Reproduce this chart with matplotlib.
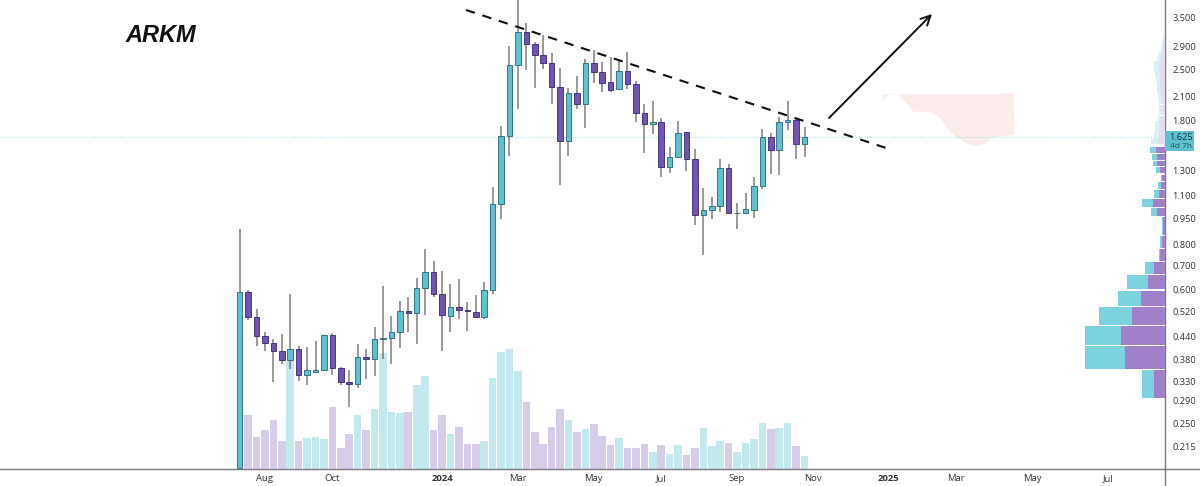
import numpy as np
import matplotlib
matplotlib.use("Agg")
import matplotlib.pyplot as plt
from matplotlib.lines import Line2D
from matplotlib.patches import Rectangle
from matplotlib.ticker import NullLocator

plt.rcParams['font.family'] = ['Open Sans', 'DejaVu Sans']

highs = [.885,.597,.526,.455,.433,.448,.581,.415,.413,.429,.445,.450,.362,.355,.420,.406,.468,.612,.504,.554,.571,.645,.777,.719,.675,.620,.641,.553,.576,.630,1.168,1.737,2.916,4.197,3.394,2.999,3.132,2.780,2.522,2.214,2.399,2.674,2.841,2.633,2.720,2.674,2.810,2.327,2.000,2.039,1.830,1.509,1.794,1.671,1.493,1.161,1.095,1.402,1.354,1.053,1.119,1.241,1.700,1.653,1.842,2.039,1.822,1.726]
body_top = [.590,.590,.502,.442,.424,.400,.407,.407,.355,.354,.444,.444,.359,.329,.387,.387,.433,.437,.453,.522,.522,.603,.669,.671,.583,.533,.533,.525,.518,.597,1.042,1.624,2.577,3.201,3.201,2.948,2.750,2.605,2.238,2.148,2.143,2.605,2.611,2.457,2.307,2.473,2.473,2.278,1.882,1.783,1.779,1.414,1.653,1.663,1.399,1.006,1.033,1.316,1.316,.987,1.008,1.173,1.614,1.614,1.783,1.798,1.798,1.614]
body_bottom = [.187,.502,.441,.424,.400,.379,.379,.343,.343,.351,.354,.359,.328,.323,.323,.381,.381,.434,.436,.454,.515,.515,.603,.583,.506,.505,.525,.519,.502,.502,.597,1.042,1.624,2.577,2.948,2.750,2.605,2.238,1.569,1.569,1.995,1.995,2.457,2.292,2.195,2.200,2.278,1.882,1.756,1.756,1.331,1.331,1.414,1.399,.970,.970,1.006,1.033,.982,.982,.982,1.006,1.173,1.480,1.480,1.783,1.545,1.545]
lows = [.187,.491,.415,.402,.329,.369,.358,.330,.322,.349,.353,.343,.322,.279,.316,.335,.340,.382,.369,.410,.455,.420,.508,.569,.402,.455,.495,.458,.500,.495,.581,.949,1.426,1.932,2.495,2.224,2.511,2.000,1.178,1.426,1.940,1.715,2.297,2.157,2.167,2.190,2.200,1.783,1.451,1.645,1.241,1.274,1.411,1.296,.911,.749,.949,.991,.980,.889,.980,.951,1.151,1.266,1.260,1.689,1.399,1.417]
rising = [1,0,0,0,0,0,1,0,1,1,1,0,0,0,1,0,1,1,1,1,0,1,1,0,0,1,0,0,0,1,1,1,1,1,0,0,0,0,0,1,0,1,0,0,0,1,0,0,0,1,0,1,1,0,0,1,1,1,0,1,1,1,1,0,1,1,0,1]
volumes = [0,54.3,31.7,39,49,28.3,108,28,31,32.3,29.7,62.3,21,35,53.7,39,60,116,57,55.7,57,84.3,93,39,54.3,35,42.3,25,24.7,28.3,91,117,120,98,67,37,25,42,60,49,37,40,45,33,24,31,21,21,25,17,24,15,24,14,21,41,23,28,26,17,26,30,46,40,41,46,23,13]
last_price = 1.614

# volume profile: bin edges (price), total and falling part of each row
profile_hi = [.826,.777,.716,.658,.594,.534,.472,.415,.354]
profile_lo = [.782,.722,.662,.599,.539,.476,.417,.357,.295]
profile_total = [5,6.3,19.7,37.7,47.3,66,80.3,80.3,23]
profile_fall = [3,5,10.7,17.3,23.7,33.3,43.7,40,10.7]
profile2_hi = [.848,.905,.961,1.019,1.081,1.143,1.204,1.26,1.325,1.383,1.448,1.512]
profile2_lo = [.826,.853,.905,.965,1.026,1.088,1.151,1.212,1.274,1.333,1.393,1.457]
profile2_total = [5,3,3,14,23,11,6.7,4.3,9,12,13,15]
profile2_fall = [3,2,2,7.7,12.3,6.3,4.3,3.3,5,7.7,8.3,9]
faded_hi = [1.593,1.653,1.718,1.787,1.854,1.923,1.991,2.066,2.143,2.229,2.307,2.389,2.473,2.566,2.651,2.738,2.829,2.922,3.019,3.118]
faded_lo = [1.538,1.596,1.66,1.726,1.791,1.858,1.923,1.995,2.07,2.153,2.229,2.307,2.389,2.478,2.56,2.645,2.732,2.823,2.916,3.012]
faded_total = [14.3,11,10.3,10.3,6.7,6,5.7,5.7,6.7,8.3,8.3,9,10,11,11,7.7,5.7,4,3,2.3]

# forecast-style pink area
area_x = [78.1,89.4,91.8,91.9,89.4,88.4,87.4,86.2,84.9,84.1,83.1,82.1,79.9,78.7]
area_y = [2.13,2.13,2.153,1.635,1.61,1.549,1.515,1.549,1.617,1.689,1.822,1.894,1.903,2.053]
lobe_x = [76.2,78.1,77.0,76.3]
lobe_y = [2.13,2.14,2.12,2.03]

trend_x = [26.84,77.02]
trend_y = [3.685,1.493]
arrow_from = (69.91,1.826)
arrow_to = (82.12,3.59)

y_ticks = [3.5,2.9,2.5,2.1,1.8,1.3,1.1,.95,.8,.7,.6,.52,.44,.38,.33,.29,.25,.215]
y_labels = ['3.500','2.900','2.500','2.100','1.800','1.300','1.100','0.950','0.800','0.700','0.600','0.520','0.440','0.380','0.330','0.290','0.250','0.215']
x_ticks = [3,11,24,33,42,50,59,68,77,85,94,103]
x_labels = ['Aug','Oct','2024','Mar','May','Jul','Sep','Nov','2025','Mar','May','Jul']

TEAL = '#5fc0cf'
PURPLE = '#7152b6'
W, H = 1200, 486
XLIM = (-28.43, 109.76)
YLIM = (0.1863, 3.932)
rect = [0, (H-469)/H, 1165/W, 469/H]

fig = plt.figure(figsize=(12, 4.86), dpi=100, facecolor='white')

# volume pane
axv = fig.add_axes(rect)
axv.set_xlim(XLIM); axv.set_ylim(0, 469)
axv.axis('off')
x = np.arange(len(highs))
up = np.array(rising, bool)
axv.bar(x, volumes, width=0.9, color=['#c3e9ef' if u else '#d8cde9' for u in up], linewidth=0)

# price pane
ax = fig.add_axes(rect, facecolor='none')
ax.set_yscale('log')
ax.set_xlim(XLIM); ax.set_ylim(YLIM)
ax.fill(area_x, area_y, color='#fbeceb', linewidth=0, zorder=1)
ax.fill(lobe_x, lobe_y, color='#f1f4e8', linewidth=0, zorder=1)
ax.axhline(last_price, color='#a8dfea', lw=0.8, ls=(0, (1, 1.5)), zorder=1)
ax.vlines(x, lows, highs, color='#7d7d7d', lw=1.1, zorder=2)
ax.bar(x, np.array(body_top)-np.array(body_bottom), bottom=body_bottom, width=0.66,
       color=[TEAL if u else PURPLE for u in up],
       edgecolor=['#2a6573' if u else '#35276e' for u in up], linewidth=0.6, zorder=3)
ax.plot(trend_x, trend_y, color='#111111', lw=1.5, ls=(0, (4.5, 3.8)), zorder=5)
ax.annotate('', xy=arrow_to, xytext=arrow_from, zorder=5,
            arrowprops=dict(arrowstyle='->', color='#111111', lw=1.4, mutation_scale=17, shrinkA=0, shrinkB=0))
for s in ('top', 'left'):
    ax.spines[s].set_visible(False)
for s in ('bottom', 'right'):
    ax.spines[s].set_color('#7a7a80'); ax.spines[s].set_linewidth(1.0)
ax.yaxis.tick_right()
ax.yaxis.set_minor_locator(NullLocator())
ax.set_yticks(y_ticks, y_labels)
ax.set_xticks(x_ticks, x_labels)
ax.tick_params(axis='y', length=0, pad=5.5, labelsize=6.7, labelcolor='#333333')
ax.tick_params(axis='x', length=0, pad=3.5, labelsize=6.8, labelcolor='#333333')
for lab in ax.get_xticklabels():
    if lab.get_text() in ('2024', '2025'):
        lab.set_fontweight('bold')

# volume profile pane
axp = fig.add_axes(rect, facecolor='none')
axp.set_yscale('log')
axp.set_xlim(1165, 0); axp.set_ylim(YLIM)
axp.axis('off')
def rows(hi, lo, total, fall, c1, c2):
    hi, lo = np.array(hi), np.array(lo)
    axp.barh(lo, total, height=hi-lo, align='edge', color=c1, linewidth=0)
    axp.barh(lo, fall, height=hi-lo, align='edge', color=c2, linewidth=0)
rows(profile_hi, profile_lo, profile_total, profile_fall, '#7dd2e0', '#a07fcb')
rows(profile2_hi, profile2_lo, profile2_total, profile2_fall, '#7dd2e0', '#a07fcb')
rows(faded_hi, faded_lo, faded_total, np.array(faded_total)*0.55, '#d8f0f4', '#e4dcf0')

# axis extensions, last-price tag and title
fig.add_artist(Line2D([1165/W, 1], [(H-469)/H]*2, color='#7a7a80', lw=1.0))
fig.add_artist(Line2D([1165/W]*2, [0, (H-469)/H], color='#7a7a80', lw=1.0))
fig.add_artist(Rectangle((1165/W, (H-151)/H), 29/W, 20/H, facecolor=TEAL, edgecolor='none',
                         transform=fig.transFigure, zorder=6))
fig.text(1180.5/W, (H-137)/H, '1.625', ha='center', va='center', fontsize=6.7, color='#12343c', zorder=7)
fig.text(1180.5/W, (H-146)/H, '4d 7h', ha='center', va='center', fontsize=6, color='#1f4f5a', zorder=7)
fig.text(161/W, (H-36)/H, 'ARKM', ha='center', va='center', fontsize=17, fontweight='bold', fontstyle='italic',
         family=['Liberation Sans', 'DejaVu Sans'], color='#111111')

fig.savefig('out.png', dpi=100, facecolor='white')
